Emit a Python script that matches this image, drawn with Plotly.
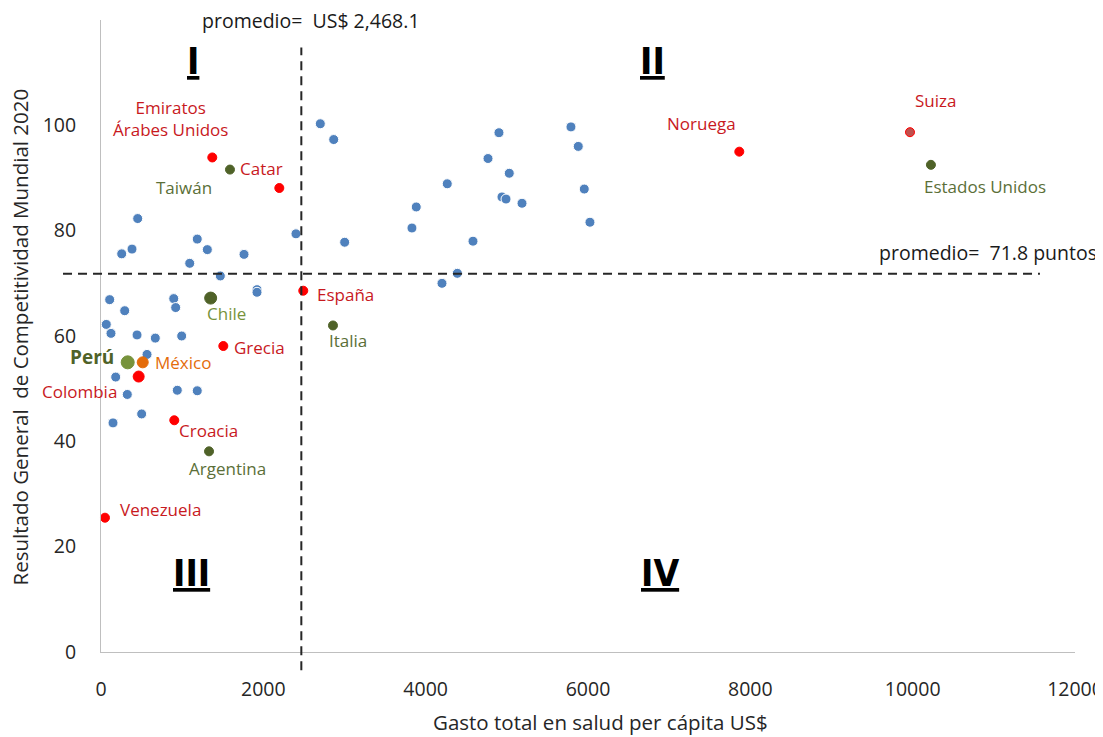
import plotly.graph_objects as go

# ---------------- DATA ----------------
# Unlabelled countries (blue points)
otros_gasto = [452, 1186, 382, 255, 1310, 1762, 2402, 1093, 1470, 1922, 1922,
               107, 896, 292, 920, 65, 123, 444, 669, 994, 567, 181, 940, 1186,
               324, 501, 148,
               2702, 2867, 3002, 4903, 5790, 5880, 4768, 5030, 4266, 3884, 3831,
               4940, 4990, 5187, 5954, 6024, 4583, 4390, 4201]
otros_puntaje = [82.3, 78.4, 76.5, 75.6, 76.4, 75.5, 79.4, 73.8, 71.4, 68.8, 68.3,
                 66.9, 67.1, 64.8, 65.4, 62.2, 60.5, 60.2, 59.6, 60.0, 56.5, 52.2,
                 49.7, 49.6, 48.9, 45.2, 43.5,
                 100.3, 97.3, 77.8, 98.6, 99.7, 96.0, 93.7, 90.9, 88.9, 84.5, 80.5,
                 86.4, 86.0, 85.2, 87.9, 81.6, 78.0, 71.9, 70.0]

# Highlighted countries
paises = ["Emiratos Árabes Unidos", "Taiwán", "Catar", "Chile", "España", "Grecia",
          "Perú", "México", "Colombia", "Croacia", "Argentina", "Venezuela",
          "Italia", "Noruega", "Suiza", "Estados Unidos"]
gasto = [1371, 1589, 2197, 1351, 2492, 1507, 329, 514, 464, 903, 1331, 49,
         2858, 7864, 9967, 10225]
puntaje = [93.9, 91.6, 88.1, 67.2, 68.6, 58.1, 55.0, 55.0, 52.3, 44.0, 38.1, 25.5,
           62.0, 95.0, 98.7, 92.5]

prom_gasto = 2468.1
prom_puntaje = 71.8

x_ticks = [0, 2000, 4000, 6000, 8000, 10000, 12000]
y_ticks = [0, 20, 40, 60, 80, 100]

# ---------------- STYLES ----------------
RED = "#FF0000"
RED_TXT = "#C8191E"
DKG = "#4F6228"
DKG_TXT = "#5B6F38"
LTG = "#77933C"
ORG = "#E46C0A"
BLUE = "#4F81BD"

# marker: (fill, size, line color)
marker_style = {
    "Emiratos Árabes Unidos": (RED, 9, RED),
    "Taiwán": (DKG, 9, DKG),
    "Catar": (RED, 9, RED),
    "Chile": (DKG, 12, DKG),
    "España": (RED, 9, RED),
    "Grecia": (RED, 9, RED),
    "Perú": (LTG, 13, LTG),
    "México": (ORG, 11, ORG),
    "Colombia": (RED, 11, RED),
    "Croacia": (RED, 9, RED),
    "Argentina": (DKG, 9, DKG),
    "Venezuela": (RED, 9, RED),
    "Italia": (DKG, 9, DKG),
    "Noruega": (RED, 9, RED),
    "Suiza": ("#C0504D", 9, RED),
    "Estados Unidos": (DKG, 9, DKG),
}
# label: (text, color, xanchor, xshift, yshift, bold)
label_style = {
    "Emiratos Árabes Unidos": ("Emiratos<br>Árabes Unidos", RED_TXT, "center", -42, 39, False),
    "Taiwán": ("Taiwán", DKG_TXT, "center", -46, -18, False),
    "Catar": ("Catar", RED_TXT, "left", -41, 20, False),
    "Chile": ("Chile", LTG, "center", 16, -15, False),
    "España": ("España", RED_TXT, "left", 12, -4, False),
    "Grecia": ("Grecia", RED_TXT, "left", 9, -1, False),
    "Perú": ("Perú", DKG, "right", -12, 5, True),
    "México": ("México", ORG, "left", 10, 0, False),
    "Colombia": ("Colombia", RED_TXT, "right", -20, -15, False),
    "Croacia": ("Croacia", RED_TXT, "left", 3, -10, False),
    "Argentina": ("Argentina", DKG_TXT, "center", 18, -17, False),
    "Venezuela": ("Venezuela", RED_TXT, "left", 13, 8, False),
    "Italia": ("Italia", DKG_TXT, "center", 15, -15, False),
    "Noruega": ("Noruega", RED_TXT, "center", -38, 28, False),
    "Suiza": ("Suiza", RED_TXT, "center", 26, 32, False),
    "Estados Unidos": ("Estados Unidos", DKG_TXT, "center", 54, -22, False),
}

FONT = "Open Sans"
NARROW = "Liberation Sans Narrow, DejaVu Sans Condensed, Liberation Sans, sans-serif"

fig = go.Figure()

fig.add_trace(go.Scatter(
    x=otros_gasto, y=otros_puntaje, mode="markers",
    marker=dict(color=BLUE, size=10, line=dict(color="white", width=1)),
    showlegend=False, hoverinfo="skip"))

for p, gx, py in zip(paises, gasto, puntaje):
    fill, size, lc = marker_style[p]
    fig.add_trace(go.Scatter(
        x=[gx], y=[py], mode="markers",
        marker=dict(color=fill, size=size, line=dict(color=lc, width=1)),
        showlegend=False, hoverinfo="skip", cliponaxis=False))
    txt, col, xa, dx, dy, bold = label_style[p]
    fig.add_annotation(
        x=gx, y=py, xref="x", yref="y", text=txt, showarrow=False,
        xanchor=xa, yanchor="middle", xshift=dx, yshift=dy,
        font=dict(family=FONT, size=19 if bold else 17, color=col,
                  weight="bold" if bold else "normal"))

# average lines
dash = "9px,6px"
fig.add_shape(type="line", xref="x", yref="paper", x0=prom_gasto, x1=prom_gasto,
              y0=-0.029, y1=0.9565, line=dict(color="#262626", width=2, dash=dash))
fig.add_shape(type="line", xref="paper", yref="y", x0=-0.039, x1=0.964,
              y0=prom_puntaje, y1=prom_puntaje,
              line=dict(color="#262626", width=2, dash=dash))

fig.add_annotation(x=prom_gasto, y=1.0, xref="x", yref="paper",
                   text=f"promedio=  US$ {prom_gasto:,.1f}", showarrow=False,
                   xanchor="center", yanchor="middle", xshift=10, yshift=0,
                   font=dict(family=FONT, size=19.5, color="#1a1a1a"))
fig.add_annotation(x=1.0246, y=prom_puntaje, xref="paper", yref="y",
                   text=f"promedio=  {prom_puntaje} puntos", showarrow=False,
                   xanchor="right", yanchor="middle", yshift=21,
                   font=dict(family=FONT, size=19.5, color="#1a1a1a"))

# quadrant numerals
for txt, xp, yp in [("I", 0.0945, 0.935), ("II", 0.566, 0.935),
                    ("III", 0.093, 0.125), ("IV", 0.574, 0.125)]:
    fig.add_annotation(x=xp, y=yp, xref="paper", yref="paper", text=txt,
                       showarrow=False, xanchor="center", yanchor="middle",
                       font=dict(family=NARROW, size=37,
                                 color="black", weight="bold", lineposition="under"))

# axis titles
fig.add_annotation(x=0.513, y=-0.111, xref="paper", yref="paper",
                   text="Gasto total en salud per cápita US$", showarrow=False,
                   xanchor="center", yanchor="middle",
                   font=dict(family=FONT, size=20.5, color="#262626"))
fig.add_annotation(x=-0.083, y=0.498, xref="paper", yref="paper",
                   text="Resultado General  de Competitividad Mundial 2020",
                   showarrow=False, textangle=-90, xanchor="center", yanchor="middle",
                   font=dict(family=FONT, size=20.5, color="#262626"))

fig.update_xaxes(range=[0, 12000], tickvals=x_ticks, ticktext=[str(v) for v in x_ticks],
                 showgrid=False, zeroline=False, showline=True, linecolor="#BFBFBF",
                 linewidth=1, ticks="", ticklabelstandoff=20, automargin=False,
                 tickfont=dict(family=FONT, size=19.5, color="#262626"))
fig.update_yaxes(range=[0, 120], tickvals=y_ticks, ticktext=[str(v) for v in y_ticks],
                 showgrid=False, zeroline=False, showline=True, linecolor="#BFBFBF",
                 linewidth=1, ticks="", ticklabelstandoff=20, automargin=False,
                 tickfont=dict(family=FONT, size=19.5, color="#262626"))

# the page adds an 8px body margin, so the figure is sized/offset to compensate
fig.update_layout(width=1095, height=729, margin=dict(l=93, r=28, t=12, b=85),
                  plot_bgcolor="white", paper_bgcolor="white", showlegend=False)

fig.write_html("out.html")
